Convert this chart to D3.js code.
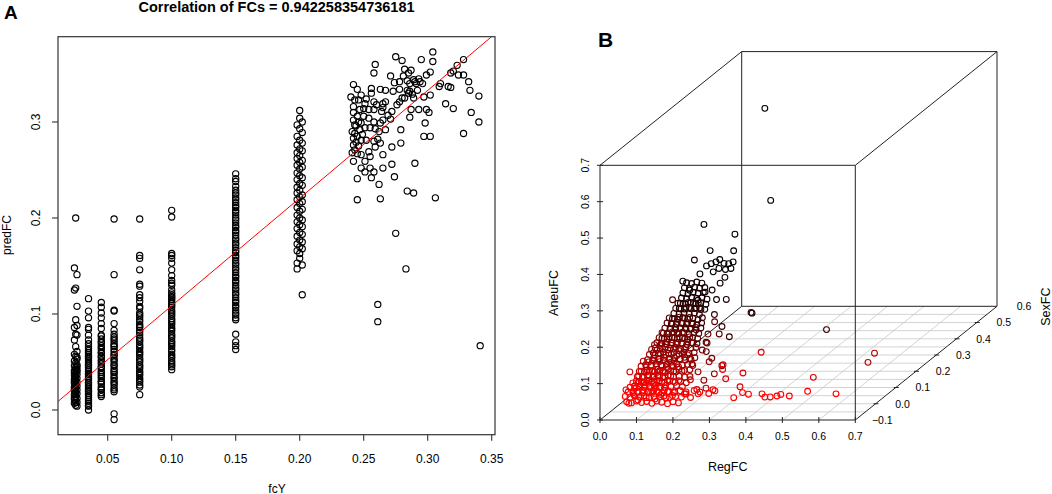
<!DOCTYPE html>
<html>
<head>
<meta charset="utf-8">
<script src="https://cdnjs.cloudflare.com/ajax/libs/d3/7.8.5/d3.min.js"></script>
<style>
	body { margin: 0; background: #fff; }
	text { font-family: "Liberation Sans", Arial, Helvetica, sans-serif; fill: #000; }
</style>
</head>
<body>
<svg id="chart" width="1052" height="494"></svg>
<script>
// ---------- Panel A data (fcY vs predFC) ----------
const fcTicks = [0.05, 0.10, 0.15, 0.20, 0.25, 0.30, 0.35];
const predTicks = [0.0, 0.1, 0.2, 0.3];
const titleA = 'Correlation of FCs = 0.942258354736181';
const fitLine = { intercept: -0.0036, slope: 1.1216 };

// predFC values for each fcY column
const col024 = [0.148, 0.125, 0.086, 0.073, 0.058, 0.051, 0.046, 0.041, 0.036, 0.032, 0.028, 0.024, 0.020, 0.016, 0.011, 0.007, 0.039, 0.030, 0.022, 0.013];
const col025 = [0.200, 0.127, 0.094, 0.079, 0.066, 0.056, 0.049, 0.044, 0.038, 0.034, 0.031, 0.027, 0.023, 0.019, 0.014, 0.010, 0.005, 0.042, 0.035, 0.026, 0.017, 0.008];
const col026 = [0.141, 0.108, 0.088, 0.078, 0.061, 0.053, 0.047, 0.042, 0.037, 0.033, 0.029, 0.025, 0.021, 0.017, 0.012, 0.008, 0.004, 0.055, 0.045, 0.040];
const col035 = [0.116, 0.103, 0.096, 0.086, 0.084, 0.078, 0.073, 0.069, 0.066, 0.064, 0.062, 0.060, 0.058, 0.056, 0.055, 0.053, 0.051, 0.049, 0.047, 0.046, 0.044, 0.042, 0.040, 0.038, 0.037, 0.035, 0.033, 0.031, 0.029, 0.028, 0.026, 0.024, 0.022, 0.020, 0.019, 0.017, 0.015, 0.013, 0.011, 0.009, 0.007, 0.005, 0.004, 0.000];
const col045 = [0.112, 0.107, 0.101, 0.096, 0.090, 0.085, 0.078, 0.077, 0.074, 0.071, 0.070, 0.067, 0.065, 0.063, 0.060, 0.059, 0.056, 0.055, 0.052, 0.050, 0.048, 0.045, 0.044, 0.041, 0.039, 0.037, 0.035, 0.033, 0.030, 0.029, 0.027, 0.024, 0.022, 0.021, 0.018, 0.016, 0.014];
const col055 = [0.199, 0.141, 0.104, 0.103, 0.090, 0.083, 0.079, 0.076, 0.074, 0.072, 0.069, 0.067, 0.066, 0.063, 0.061, 0.058, 0.057, 0.054, 0.052, 0.050, 0.047, 0.046, 0.043, 0.041, 0.039, 0.037, 0.034, 0.033, 0.030, 0.028, 0.026, 0.023, 0.021, 0.019, -0.004, -0.010];
const col075 = [0.199, 0.161, 0.158, 0.146, 0.131, 0.129, 0.120, 0.117, 0.113, 0.108, 0.106, 0.101, 0.099, 0.097, 0.094, 0.092, 0.089, 0.087, 0.086, 0.083, 0.081, 0.078, 0.075, 0.073, 0.071, 0.068, 0.066, 0.064, 0.061, 0.059, 0.057, 0.054, 0.052, 0.050, 0.047, 0.045, 0.043, 0.040, 0.038, 0.036, 0.033, 0.031, 0.029, 0.026, 0.024, 0.016];
const col100 = [0.208, 0.201, 0.163, 0.161, 0.158, 0.153, 0.146, 0.140, 0.135, 0.132, 0.130, 0.125, 0.122, 0.120, 0.118, 0.117, 0.115, 0.113, 0.111, 0.109, 0.107, 0.104, 0.102, 0.100, 0.098, 0.095, 0.093, 0.091, 0.089, 0.086, 0.084, 0.082, 0.079, 0.077, 0.075, 0.072, 0.070, 0.068, 0.066, 0.063, 0.061, 0.058, 0.056, 0.054, 0.051, 0.049, 0.047, 0.045, 0.042];
const col150 = [0.246, 0.241, 0.238, 0.233, 0.229, 0.226, 0.224, 0.221, 0.219, 0.216, 0.213, 0.211, 0.208, 0.206, 0.203, 0.200, 0.198, 0.195, 0.192, 0.190, 0.187, 0.185, 0.182, 0.179, 0.177, 0.174, 0.172, 0.169, 0.166, 0.164, 0.161, 0.159, 0.156, 0.153, 0.151, 0.148, 0.146, 0.143, 0.140, 0.138, 0.135, 0.133, 0.130, 0.127, 0.125, 0.122, 0.120, 0.117, 0.114, 0.112, 0.109, 0.107, 0.104, 0.101, 0.099, 0.096, 0.094, 0.079, 0.071, 0.067, 0.063];
const col198 = [0.297, 0.285, 0.276, 0.268, 0.262, 0.255, 0.247, 0.240, 0.232, 0.226, 0.219, 0.211, 0.203, 0.196, 0.189, 0.181, 0.173, 0.166, 0.153, 0.147];
const col200 = [0.312, 0.304, 0.293, 0.281, 0.272, 0.265, 0.258, 0.251, 0.244, 0.236, 0.229, 0.222, 0.215, 0.207, 0.200, 0.193, 0.185, 0.177, 0.170, 0.163, 0.158];
const col202 = [0.300, 0.289, 0.278, 0.270, 0.260, 0.253, 0.242, 0.234, 0.224, 0.217, 0.209, 0.198, 0.191, 0.183, 0.175, 0.168, 0.151, 0.120];

const columnsA = [
	[0.024, col024], [0.025, col025], [0.026, col026], [0.035, col035],
	[0.045, col045], [0.055, col055], [0.075, col075], [0.100, col100],
	[0.150, col150], [0.198, col198], [0.200, col200], [0.202, col202]
];

// scattered genes with fcY above 0.24: [fcY, predFC]
const cloudPts = [
	[0.275,0.368],[0.280,0.364],[0.259,0.360],[0.258,0.351],[0.295,0.365],[0.304,0.373],[0.304,0.363],[0.287,0.354],
	[0.285,0.351],[0.282,0.355],[0.281,0.348],[0.302,0.352],[0.299,0.349],[0.293,0.345],[0.290,0.342],[0.289,0.344],
	[0.271,0.348],[0.274,0.341],[0.278,0.342],[0.284,0.343],[0.286,0.340],[0.291,0.340],[0.294,0.342],[0.296,0.340],
	[0.278,0.334],[0.286,0.332],[0.292,0.333],[0.288,0.329],[0.285,0.330],[0.273,0.332],[0.267,0.333],[0.263,0.334],
	[0.256,0.335],[0.242,0.339],[0.245,0.334],[0.248,0.328],[0.256,0.330],[0.252,0.324],[0.258,0.321],[0.267,0.321],
	[0.265,0.319],[0.260,0.318],[0.251,0.319],[0.246,0.323],[0.243,0.323],[0.242,0.316],[0.247,0.313],[0.250,0.314],
	[0.254,0.313],[0.258,0.313],[0.264,0.311],[0.265,0.315],[0.269,0.307],[0.272,0.311],[0.276,0.318],[0.278,0.321],
	[0.280,0.325],[0.282,0.325],[0.284,0.333],[0.289,0.325],[0.297,0.326],[0.302,0.328],[0.309,0.337],[0.310,0.340],
	[0.316,0.337],[0.318,0.351],[0.320,0.353],[0.323,0.359],[0.328,0.365],[0.324,0.349],[0.328,0.349],[0.332,0.342],
	[0.333,0.333],[0.340,0.327],[0.318,0.336],[0.314,0.319],[0.320,0.314],[0.334,0.310],[0.340,0.300],[0.328,0.288],
	[0.299,0.313],[0.301,0.310],[0.293,0.313],[0.287,0.313],[0.286,0.305],[0.279,0.292],[0.271,0.303],[0.265,0.302],
	[0.263,0.299],[0.258,0.300],[0.254,0.304],[0.250,0.306],[0.245,0.306],[0.242,0.302],[0.243,0.297],[0.248,0.299],
	[0.251,0.294],[0.255,0.294],[0.259,0.293],[0.262,0.290],[0.267,0.292],[0.261,0.282],[0.258,0.280],[0.252,0.281],
	[0.248,0.281],[0.245,0.285],[0.242,0.283],[0.242,0.276],[0.246,0.275],[0.243,0.271],[0.245,0.267],[0.248,0.266],
	[0.254,0.269],[0.259,0.274],[0.263,0.278],[0.265,0.266],[0.255,0.264],[0.251,0.259],[0.242,0.259],[0.248,0.252],
	[0.255,0.252],[0.258,0.248],[0.251,0.248],[0.245,0.241],[0.256,0.242],[0.265,0.252],[0.272,0.256],[0.272,0.274],
	[0.279,0.278],[0.297,0.285],[0.302,0.285],[0.298,0.299],[0.290,0.257],[0.274,0.243],[0.262,0.235],[0.284,0.228],
	[0.289,0.226],[0.306,0.221],[0.263,0.220],[0.245,0.219],[0.275,0.184],[0.261,0.110],[0.261,0.092],[0.283,0.147],
	[0.341,0.067],[0.241,0.290],[0.243,0.288],[0.244,0.279],[0.241,0.268],[0.242,0.310],[0.244,0.296],[0.246,0.300],
	[0.247,0.292],[0.249,0.287],[0.240,0.326]
];

// ---------- Panel B data (3D: RegFC, SexFC, AneuFC) ----------
const regTicks = [0.0, 0.1, 0.2, 0.3, 0.4, 0.5, 0.6, 0.7];
const aneuTicks = [0.0, 0.1, 0.2, 0.3, 0.4, 0.5, 0.6, 0.7];
const sexTicks = [-0.1, 0.0, 0.1, 0.2, 0.3, 0.4, 0.5, 0.6];
const sexGrid = [-0.05, 0.0, 0.05, 0.1, 0.15, 0.2, 0.25, 0.3, 0.35, 0.4, 0.45, 0.5, 0.55];
const regGrid = [0.1, 0.2, 0.3, 0.4, 0.5, 0.6];

// scattered genes: [RegFC, SexFC, AneuFC]
const ptsFront = [
	[0.068,-0.080,0.037],[0.080,-0.078,0.060],[0.093,-0.080,0.046],[0.104,-0.076,0.068],[0.115,-0.079,0.052],
	[0.126,-0.077,0.065],[0.140,-0.080,0.049],[0.154,-0.078,0.060],[0.170,-0.080,0.052],[0.186,-0.077,0.057],
	[0.220,-0.079,0.063],[0.247,-0.080,0.072],[0.286,-0.078,0.063],[0.304,-0.080,0.071],[0.355,-0.079,0.052],
	[0.378,-0.077,0.065],[0.396,-0.080,0.062],[0.432,-0.078,0.062],[0.441,-0.080,0.054],[0.455,-0.079,0.054],
	[0.474,-0.080,0.057],[0.483,-0.077,0.060],[0.508,-0.080,0.057],[0.557,-0.078,0.069],[0.636,-0.080,0.063],
	[0.088,-0.079,0.079],[0.060,-0.080,0.074],[0.236,-0.078,0.052],[0.258,-0.080,0.063],[0.165,-0.079,0.079]
];
const ptsNear = [
	[0.345,-0.030,0.060],[0.307,-0.032,0.083],[0.352,-0.028,0.097],[0.546,-0.030,0.086],[0.298,-0.031,0.108],
	[0.298,-0.029,0.120],[0.403,-0.030,0.155],[0.043,-0.030,0.101],[0.235,-0.030,0.046],[0.272,-0.032,0.053],
	[0.686,0.020,0.130],[0.667,0.022,0.104],[0.180,0.022,0.056],[0.224,0.020,0.034],
	[0.200,0.018,0.031],[0.169,0.020,0.018]
];
const ptsMid = [
	[0.158,0.070,0.078],[0.174,0.071,0.056],[0.191,0.069,0.034],[0.218,0.072,0.050],[0.205,0.070,0.084],
	[0.158,0.120,0.094],[0.171,0.121,0.113],[0.185,0.119,0.072],[0.212,0.120,0.051],[0.174,0.120,0.138],
	[0.141,0.170,0.093],[0.141,0.171,0.067],[0.165,0.169,0.150],[0.177,0.170,0.116],[0.048,0.172,0.209]
];
const ptsBack = [
	[0.158,0.218,0.115],[0.177,0.220,0.086],[0.236,0.221,0.152],[0.444,0.219,0.106],[0.135,0.222,0.146],
	[0.102,0.270,0.192],[0.113,0.272,0.165],[0.142,0.268,0.167],[0.124,0.270,0.211],[0.211,0.271,0.128],
	[0.054,0.269,0.275],
	[0.063,0.300,0.359],[0.149,0.298,0.333],[0.080,0.300,0.287],[0.145,0.299,0.287],[0.070,0.300,0.245],
	[0.084,0.298,0.252],[0.096,0.300,0.256],[0.107,0.299,0.263],[0.118,0.300,0.252],[0.132,0.298,0.252],
	[0.143,0.300,0.256],[0.089,0.299,0.229],[0.104,0.300,0.238],[0.123,0.298,0.236],[0.137,0.300,0.238],
	[0.121,0.299,0.214],[0.052,0.300,0.223],[0.005,0.300,0.203],[0.230,0.300,0.678],[0.246,0.300,0.425],
	[0.025,0.298,0.179],[0.066,0.300,0.173],[0.047,0.299,0.151]
];

// dense core of the cloud, one list of [RegFC, AneuFC] per SexFC level
const coreM08 = [
	[0.062,0.041],[0.075,0.038],[0.089,0.043],[0.103,0.039],[0.117,0.042],[0.131,0.037],[0.145,0.043],[0.158,0.040],[0.174,0.036],[0.189,0.041],[0.204,0.038],
	[0.058,0.056],[0.071,0.053],[0.084,0.057],[0.096,0.054],[0.110,0.058],[0.123,0.053],[0.137,0.056],[0.151,0.054],[0.164,0.057],[0.180,0.053],[0.196,0.056],[0.212,0.054],
	[0.066,0.068],[0.079,0.066],[0.092,0.070],[0.106,0.066],[0.119,0.069],[0.133,0.067],[0.146,0.070],[0.160,0.066],[0.174,0.069],[0.190,0.067],
	[0.071,0.081],[0.084,0.079],[0.096,0.082],[0.112,0.080],[0.124,0.083],[0.139,0.079],[0.152,0.081],[0.168,0.080],
	[0.079,0.093],[0.093,0.091],[0.107,0.094],[0.121,0.092],[0.136,0.090],[0.150,0.093]
];
const coreM03 = [
	[0.052,0.048],[0.066,0.045],[0.080,0.050],[0.094,0.046],[0.108,0.049],[0.122,0.044],[0.137,0.050],[0.150,0.047],[0.166,0.045],[0.181,0.049],[0.197,0.046],
	[0.056,0.062],[0.070,0.060],[0.084,0.064],[0.099,0.061],[0.113,0.063],[0.127,0.059],[0.141,0.064],[0.156,0.061],[0.171,0.063],[0.187,0.060],
	[0.061,0.076],[0.075,0.074],[0.089,0.078],[0.103,0.075],[0.117,0.077],[0.131,0.073],[0.146,0.078],[0.162,0.075],[0.177,0.077],
	[0.067,0.090],[0.081,0.088],[0.095,0.092],[0.109,0.089],[0.124,0.091],[0.139,0.087],[0.155,0.090],
	[0.074,0.103],[0.089,0.101],[0.104,0.104],[0.119,0.100],[0.134,0.103]
];
const coreP02 = [
	[0.040,0.052],[0.054,0.049],[0.068,0.053],[0.082,0.050],[0.096,0.054],[0.110,0.049],[0.124,0.053],[0.139,0.050],[0.154,0.052],[0.170,0.049],
	[0.036,0.066],[0.050,0.064],[0.064,0.068],[0.078,0.065],[0.092,0.067],[0.106,0.063],[0.120,0.068],[0.135,0.065],[0.150,0.067],[0.166,0.064],[0.180,0.066],
	[0.041,0.080],[0.055,0.078],[0.069,0.082],[0.083,0.079],[0.097,0.081],[0.112,0.077],[0.127,0.082],[0.142,0.079],[0.158,0.081],
	[0.046,0.094],[0.060,0.092],[0.074,0.096],[0.088,0.093],[0.103,0.095],[0.118,0.091],[0.133,0.094],[0.149,0.092],
	[0.052,0.108],[0.067,0.106],[0.082,0.110],[0.097,0.107],[0.112,0.109],[0.128,0.105]
];
const coreP07 = [
	[0.035,0.062],[0.050,0.059],[0.064,0.063],[0.079,0.060],[0.093,0.064],[0.108,0.059],[0.122,0.063],[0.137,0.060],[0.152,0.062],
	[0.031,0.076],[0.045,0.074],[0.059,0.078],[0.073,0.075],[0.088,0.077],[0.102,0.073],[0.116,0.078],[0.131,0.075],[0.146,0.077],[0.160,0.074],
	[0.036,0.090],[0.050,0.088],[0.065,0.092],[0.080,0.089],[0.095,0.091],[0.110,0.087],[0.125,0.092],[0.140,0.089],[0.155,0.091],
	[0.041,0.104],[0.056,0.102],[0.071,0.106],[0.086,0.103],[0.101,0.105],[0.116,0.101],[0.131,0.106],[0.146,0.103],
	[0.047,0.118],[0.062,0.116],[0.077,0.120],[0.092,0.117],[0.107,0.119],[0.122,0.115],[0.137,0.118],
	[0.055,0.131],[0.070,0.129],[0.085,0.133],[0.100,0.130],[0.115,0.132]
];
const coreP12 = [
	[0.026,0.072],[0.040,0.070],[0.054,0.074],[0.068,0.071],[0.082,0.073],[0.096,0.069],[0.110,0.074],[0.124,0.071],[0.138,0.073],
	[0.024,0.086],[0.038,0.084],[0.052,0.088],[0.066,0.085],[0.080,0.087],[0.094,0.083],[0.108,0.088],[0.122,0.085],[0.136,0.087],
	[0.029,0.100],[0.043,0.098],[0.057,0.102],[0.071,0.099],[0.085,0.101],[0.099,0.097],[0.113,0.102],[0.127,0.099],[0.141,0.101],
	[0.034,0.114],[0.048,0.112],[0.062,0.116],[0.076,0.113],[0.090,0.115],[0.104,0.111],[0.118,0.116],[0.132,0.113],
	[0.040,0.128],[0.054,0.126],[0.068,0.130],[0.082,0.127],[0.096,0.129],[0.110,0.125],[0.124,0.130],
	[0.048,0.142],[0.062,0.140],[0.076,0.144],[0.090,0.141],[0.104,0.143]
];
const coreP17 = [
	[0.018,0.090],[0.032,0.088],[0.046,0.092],[0.060,0.089],[0.074,0.091],[0.088,0.087],[0.102,0.092],[0.116,0.089],
	[0.020,0.104],[0.034,0.102],[0.048,0.106],[0.062,0.103],[0.076,0.105],[0.090,0.101],[0.104,0.106],[0.118,0.103],
	[0.024,0.118],[0.038,0.116],[0.052,0.120],[0.066,0.117],[0.080,0.119],[0.094,0.115],[0.108,0.120],[0.121,0.117],
	[0.028,0.132],[0.042,0.130],[0.056,0.134],[0.070,0.131],[0.084,0.133],[0.098,0.129],[0.112,0.134],
	[0.034,0.146],[0.048,0.144],[0.062,0.148],[0.076,0.145],[0.090,0.147],[0.104,0.143],
	[0.040,0.160],[0.054,0.158],[0.068,0.162],[0.082,0.159],[0.096,0.161]
];
const coreP22 = [
	[0.016,0.108],[0.030,0.106],[0.044,0.110],[0.058,0.107],[0.072,0.109],[0.086,0.105],[0.099,0.110],
	[0.018,0.122],[0.032,0.120],[0.046,0.124],[0.060,0.121],[0.074,0.123],[0.088,0.119],[0.101,0.124],
	[0.021,0.136],[0.035,0.134],[0.049,0.138],[0.063,0.135],[0.077,0.137],[0.091,0.133],[0.103,0.138],
	[0.025,0.150],[0.039,0.148],[0.053,0.152],[0.067,0.149],[0.081,0.151],[0.095,0.147],
	[0.030,0.164],[0.044,0.162],[0.058,0.166],[0.072,0.163],[0.086,0.165],[0.099,0.161],
	[0.036,0.178],[0.050,0.176],[0.064,0.180],[0.078,0.177],[0.092,0.179]
];
const coreP27 = [
	[0.012,0.142],[0.026,0.140],[0.040,0.144],[0.054,0.141],[0.068,0.143],[0.082,0.139],
	[0.015,0.156],[0.029,0.154],[0.043,0.158],[0.057,0.155],[0.071,0.157],[0.085,0.153],
	[0.018,0.170],[0.032,0.168],[0.046,0.172],[0.060,0.169],[0.074,0.171],[0.088,0.167],
	[0.022,0.184],[0.036,0.182],[0.050,0.186],[0.064,0.183],[0.078,0.185],
	[0.026,0.198],[0.040,0.196],[0.054,0.200],[0.068,0.197],[0.082,0.199],
	[0.032,0.212],[0.046,0.210],[0.060,0.214],[0.074,0.211]
];
const coreLevels = [
	[-0.080, coreM08], [-0.030, coreM03], [0.020, coreP02], [0.070, coreP07],
	[0.120, coreP12], [0.170, coreP17], [0.220, coreP22], [0.270, coreP27]
];

// ---------- drawing ----------
const svg = d3.select('#chart');

// ===== Panel A =====
const boxA = { left: 58, right: 495, top: 36.7, bottom: 434.7 };
const xA = d3.scaleLinear().domain([0.05, 0.35]).range([107.7, 491.7]);
const yA = d3.scaleLinear().domain([0, 0.3]).range([410, 122]);

const gA = svg.append('g');

gA.append('clipPath').attr('id', 'clipA')
	.append('rect')
	.attr('x', boxA.left).attr('y', boxA.top)
	.attr('width', boxA.right - boxA.left).attr('height', boxA.bottom - boxA.top);

// points
var ptsA = [];
columnsA.forEach(function(c){
	c[1].forEach(function(v){ ptsA.push([c[0], v]); });
});
cloudPts.forEach(function(p){ ptsA.push(p); });

gA.append('g').selectAll('circle')
	.data(ptsA)
	.enter().append('circle')
	.attr('cx', d => xA(d[0]))
	.attr('cy', d => yA(d[1]))
	.attr('r', 3.1)
	.attr('fill', 'none')
	.attr('stroke', '#000')
	.attr('stroke-width', 1.15);

// regression line
const xl0 = xA.invert(boxA.left), xl1 = xA.invert(boxA.right);
gA.append('line')
	.attr('clip-path', 'url(#clipA)')
	.attr('x1', xA(xl0)).attr('y1', yA(fitLine.intercept + fitLine.slope * xl0))
	.attr('x2', xA(xl1)).attr('y2', yA(fitLine.intercept + fitLine.slope * xl1))
	.attr('stroke', '#ff0000')
	.attr('stroke-width', 1);

// box
gA.append('rect')
	.attr('x', boxA.left).attr('y', boxA.top)
	.attr('width', boxA.right - boxA.left).attr('height', boxA.bottom - boxA.top)
	.attr('fill', 'none').attr('stroke', '#333').attr('stroke-width', 1.2);

// x axis
fcTicks.forEach(function(t){
	gA.append('line')
		.attr('x1', xA(t)).attr('x2', xA(t))
		.attr('y1', boxA.bottom).attr('y2', boxA.bottom + 6)
		.attr('stroke', '#333').attr('stroke-width', 1.1);
	gA.append('text')
		.attr('x', xA(t)).attr('y', 462.6)
		.attr('text-anchor', 'middle').attr('font-size', 12)
		.text(d3.format('.2f')(t));
});
// y axis
predTicks.forEach(function(t){
	gA.append('line')
		.attr('x1', boxA.left - 6).attr('x2', boxA.left)
		.attr('y1', yA(t)).attr('y2', yA(t))
		.attr('stroke', '#333').attr('stroke-width', 1.1);
	gA.append('text')
		.attr('transform', `translate(39.5, ${yA(t)}) rotate(-90)`)
		.attr('text-anchor', 'middle').attr('font-size', 12)
		.text(d3.format('.1f')(t));
});
gA.append('text').attr('x', 277).attr('y', 492.5)
	.attr('text-anchor', 'middle').attr('font-size', 12).text('fcY');
gA.append('text')
	.attr('transform', 'translate(10.5, 235) rotate(-90)')
	.attr('text-anchor', 'middle').attr('font-size', 12).text('predFC');
gA.append('text').attr('x', 276.5).attr('y', 12)
	.attr('text-anchor', 'middle').attr('font-size', 14.5).attr('font-weight', 'bold')
	.text(titleA);
gA.append('text').attr('x', 4).attr('y', 18.5)
	.attr('font-size', 19).attr('font-weight', 'bold').text('A');

// ===== Panel B =====
const xB = d3.scaleLinear().domain([0, 0.7]).range([0, 255.3]);
const zB = d3.scaleLinear().domain([0, 0.7]).range([0, 254.7]);
const dB = d3.scaleLinear().domain([-0.1, 0.6]).range([0, 1]);
const originB = [600, 420];
const depthVec = [141.7, -113.7];

function proj(x, y, z) {
	var f = dB(y);
	return [originB[0] + xB(x) + f * depthVec[0], originB[1] - zB(z) + f * depthVec[1]];
}

const gB = svg.append('g');
const xMin = 0, xMax = 0.7, yMin = -0.1, yMax = 0.6, zMin = 0, zMax = 0.7;

function seg(g, a, b, color, w) {
	g.append('line')
		.attr('x1', a[0]).attr('y1', a[1])
		.attr('x2', b[0]).attr('y2', b[1])
		.attr('stroke', color).attr('stroke-width', w);
}

// floor grid
const gridB = gB.append('g');
regGrid.forEach(function(v){
	seg(gridB, proj(v, yMin, zMin), proj(v, yMax, zMin), '#c8c8c8', 0.8);
});
sexGrid.forEach(function(v){
	seg(gridB, proj(xMin, v, zMin), proj(xMax, v, zMin), '#c8c8c8', 0.8);
});

// cube edges
const boxB = gB.append('g');
const cubeEdges = [
	[[xMin,yMin,zMin],[xMax,yMin,zMin]], [[xMax,yMin,zMin],[xMax,yMin,zMax]],
	[[xMax,yMin,zMax],[xMin,yMin,zMax]], [[xMin,yMin,zMax],[xMin,yMin,zMin]],
	[[xMin,yMax,zMin],[xMax,yMax,zMin]], [[xMax,yMax,zMin],[xMax,yMax,zMax]],
	[[xMax,yMax,zMax],[xMin,yMax,zMax]], [[xMin,yMax,zMax],[xMin,yMax,zMin]],
	[[xMin,yMin,zMin],[xMin,yMax,zMin]], [[xMax,yMin,zMin],[xMax,yMax,zMin]],
	[[xMax,yMin,zMax],[xMax,yMax,zMax]], [[xMin,yMin,zMax],[xMin,yMax,zMax]]
];
cubeEdges.forEach(function(e){
	seg(boxB, proj(e[0][0], e[0][1], e[0][2]), proj(e[1][0], e[1][1], e[1][2]), '#222', 1);
});

// axes ticks and labels
regTicks.forEach(function(t){
	var p = proj(t, yMin, zMin);
	seg(boxB, [p[0], p[1] - 3], [p[0], p[1] + 3], '#222', 1);
	gB.append('text').attr('x', p[0]).attr('y', p[1] + 19.5)
		.attr('text-anchor', 'middle').attr('font-size', 10.5)
		.text(d3.format('.1f')(t));
});
aneuTicks.forEach(function(t){
	var p = proj(xMin, yMin, t);
	seg(boxB, [p[0] - 3, p[1]], [p[0] + 3, p[1]], '#222', 1);
	gB.append('text')
		.attr('transform', `translate(${p[0] - 11.3}, ${p[1]}) rotate(-90)`)
		.attr('text-anchor', 'middle').attr('font-size', 10.5)
		.text(d3.format('.1f')(t));
});
sexTicks.forEach(function(t){
	var p = proj(xMax, t, zMin);
	if (t > yMin && t < yMax) seg(boxB, [p[0] - 2, p[1]], [p[0] + 3, p[1]], '#222', 1);
	gB.append('text').attr('x', p[0] + 27).attr('y', p[1] + 3.8)
		.attr('text-anchor', 'middle').attr('font-size', 10.5)
		.text(d3.format('.1f')(t).replace('-', '\u2212'));
});

gB.append('text').attr('x', 727.7).attr('y', 470.5)
	.attr('text-anchor', 'middle').attr('font-size', 12.5).text('RegFC');
gB.append('text')
	.attr('transform', 'translate(557.8, 293) rotate(-90)')
	.attr('text-anchor', 'middle').attr('font-size', 12.5).text('AneuFC');
gB.append('text')
	.attr('transform', 'translate(1049.5, 306.7) rotate(-90)')
	.attr('text-anchor', 'middle').attr('font-size', 12.5).text('SexFC');
gB.append('text').attr('x', 598).attr('y', 47.3)
	.attr('font-size', 21).attr('font-weight', 'bold').text('B');

// points, coloured by depth (SexFC): red at front, black at back
var ptsB = ptsFront.concat(ptsNear, ptsMid, ptsBack);
coreLevels.forEach(function(lv){
	lv[1].forEach(function(p){ ptsB.push([p[0], lv[0], p[1]]); });
});
const sexExt = d3.extent(ptsB, d => d[1]);
const redScale = d3.scaleLinear().domain([sexExt[1], sexExt[0]]).range([0, 255]);
ptsB.sort(function(a, b){ return b[1] - a[1]; });

gB.append('g').selectAll('circle')
	.data(ptsB)
	.enter().append('circle')
	.attr('cx', d => proj(d[0], d[1], d[2])[0])
	.attr('cy', d => proj(d[0], d[1], d[2])[1])
	.attr('r', 2.9)
	.attr('fill', 'none')
	.attr('stroke', d => d3.rgb(Math.round(redScale(d[1])), 0, 0))
	.attr('stroke-width', 1.1);
</script>
</body>
</html>
